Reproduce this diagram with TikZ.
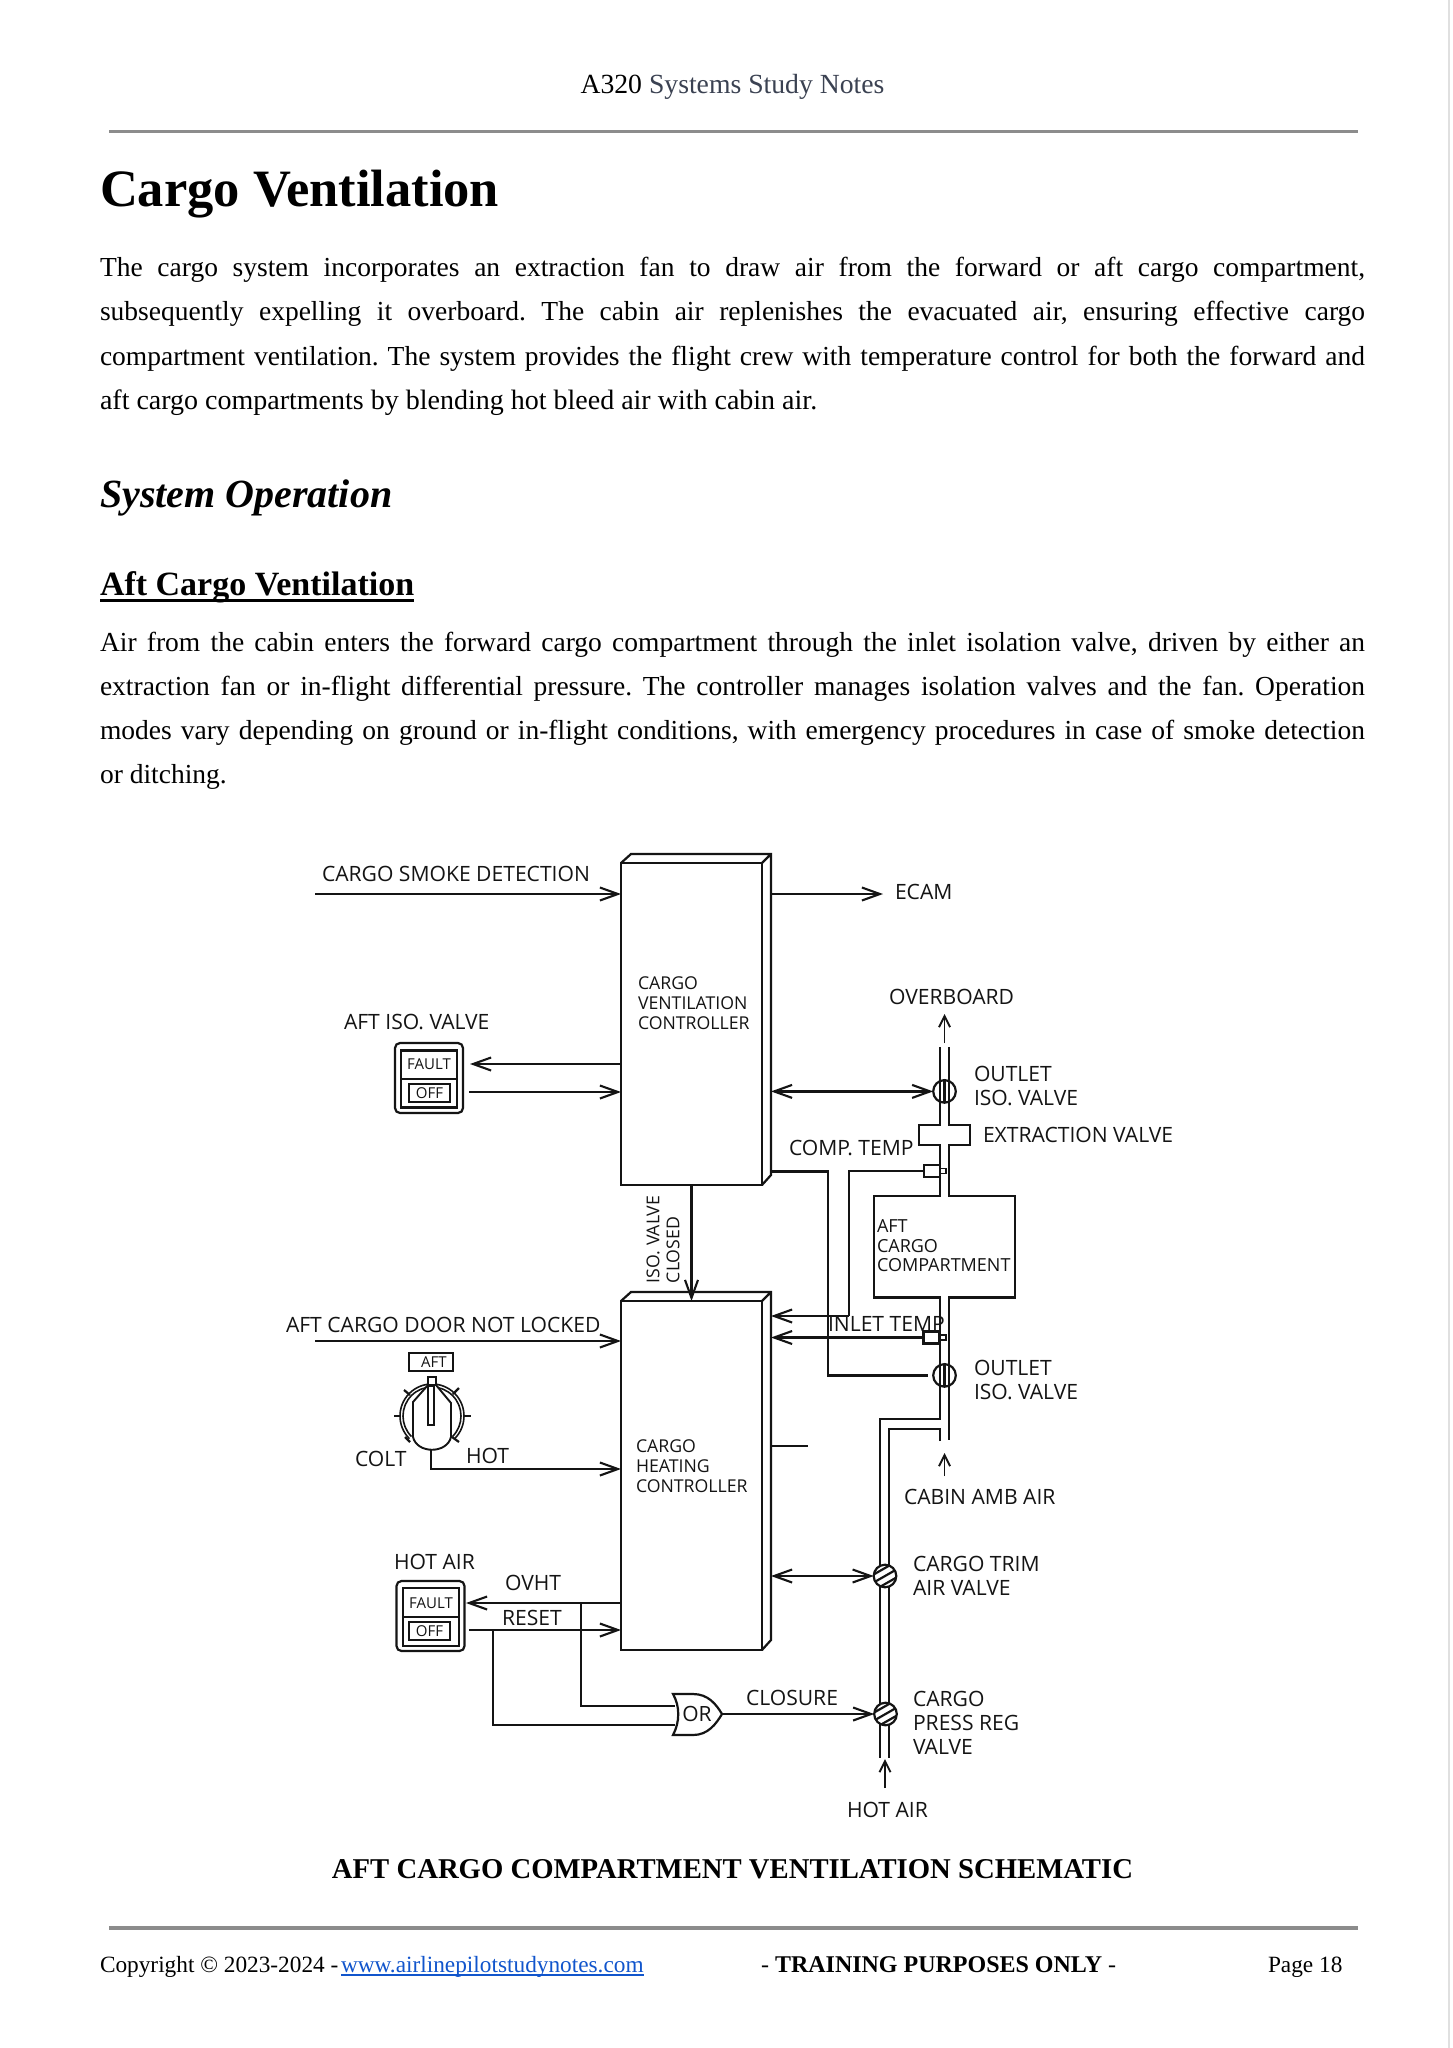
\documentclass[tikz,border=0pt]{standalone}
\usepackage{fontspec}
\usepackage{tikz}
\usetikzlibrary{arrows.meta,calc,positioning,shapes}
\setmainfont{Liberation Serif}
\newfontfamily\diagfont{Open Sans}
\frenchspacing
\definecolor{ink}{HTML}{141414}
\definecolor{slate}{HTML}{3B4252}
\definecolor{rulegray}{HTML}{8C8C8C}
\definecolor{linkblue}{HTML}{1155CC}
\tikzstyle{wire} = [line width=2.2pt,color=ink]
\tikzstyle{arr} = [wire,-{Straight Barb[length=18pt,width=13pt,line width=2.1pt]}]
\tikzstyle{twoway} = [wire,{Straight Barb[length=18pt,width=13pt,line width=2.1pt]}-{Straight Barb[length=18pt,width=13pt,line width=2.1pt]}]
\tikzstyle{flow} = [wire,line width=1.9pt,-{Straight Barb[length=11pt,width=11pt,line width=1.9pt]}]
\tikzstyle{ctl} = [wire,draw,inner sep=0,outer sep=0,minimum width=141pt,fill=white]
\tikzstyle{lbl} = [inner sep=0,outer sep=0,anchor=west,align=left,color=ink,font=\diagfont\fontsize{21.1}{24}\selectfont]
\tikzstyle{ctltxt} = [lbl,font=\diagfont\fontsize{17.7}{20}\selectfont]
\tikzstyle{paneltxt} = [inner sep=0,outer sep=0,color=ink,font=\diagfont\fontsize{15}{17}\selectfont]
\tikzstyle{panel} = [wire,draw,inner sep=0,outer sep=0,rounded corners=5pt,minimum width=68pt,minimum height=70pt]
\tikzstyle{panelin} = [wire,draw,inner sep=0,outer sep=0,minimum width=56pt,minimum height=57pt]
\tikzstyle{offbox} = [wire,draw,outer sep=0,inner sep=0,minimum width=41pt,minimum height=18pt,paneltxt]
\tikzstyle{valve} = [wire,draw,circle,inner sep=0,outer sep=0,minimum size=22.6pt]
\tikzstyle{hatchvalve} = [valve,fill=white,path picture={
  \draw[wire] ($(path picture bounding box.center)+(-14,-16)$) -- ++(28,16);
  \draw[wire] ($(path picture bounding box.center)+(-14,-8)$) -- ++(28,16);
  \draw[wire] ($(path picture bounding box.center)+(-14,0)$) -- ++(28,16);}]
\tikzstyle{sens} = [wire,draw,inner sep=0,outer sep=0,minimum width=16pt,minimum height=12pt]
\tikzstyle{senstip} = [wire,draw,inner sep=0,outer sep=0,minimum width=6pt,minimum height=5pt,line width=1.6pt]
\tikzstyle{body} = [inner sep=0,outer sep=0,anchor=base west,font=\fontsize{27.5}{30}\selectfont,color=black]
\tikzstyle{foot} = [inner sep=0,outer sep=0,anchor=base west,font=\fontsize{23.3}{27}\selectfont,color=black]
\tikzstyle{gray rule} = [line width=2.5pt,color=rulegray]
\newcommand{\fillline}[1]{\makebox[1265pt][s]{#1}}
\begin{document}
\begin{tikzpicture}[x=1pt,y=1pt]
    \useasboundingbox (0,0) rectangle (1452,-2048);
    \fill[white] (0,0) rectangle (1452,-2048);
    \draw[color=black!12,line width=1.5pt] (1449,0) to (1449,-2048);

    % page text
    \node[inner sep=0,outer sep=0,anchor=base,font=\fontsize{27.7}{30}\selectfont] (header) at (732.5,-93.5) {A320 \textcolor{slate}{Systems Study Notes}};
    \coordinate (ruleL) at (109,-131.5);
    \coordinate (ruleR) at (1358,-131.5);
    \draw[gray rule] (ruleL) to (ruleR);
    \node[body,font=\fontsize{52.5}{56}\selectfont\bfseries] (title) at (100,-206) {Cargo Ventilation};
    \node[body] (introA) at (100,-276.5) {\fillline{The cargo system incorporates an extraction fan to draw air from the forward or aft cargo compartment,}};
    \node[body] (introB) at (100,-320.5) {\fillline{subsequently expelling it overboard. The cabin air replenishes the evacuated air, ensuring effective cargo}};
    \node[body] (introC) at (100,-365) {\fillline{compartment ventilation. The system provides the flight crew with temperature control for both the forward and}};
    \node[body,font=\fontsize{28}{30}\selectfont] (introD) at (100,-409.5) {aft cargo compartments by blending hot bleed air with cabin air.};
    \node[body,font=\fontsize{40}{44}\selectfont\bfseries\itshape] (sysop) at (100,-507) {System Operation};
    \node[body,font=\fontsize{34}{38}\selectfont\bfseries] (aftvent) at (100,-595.5) {Aft Cargo Ventilation};
    \draw[line width=2.2pt] ([yshift=-5pt]aftvent.base west) to ([yshift=-5pt]aftvent.base east);
    \node[body] (opA) at (100,-651.5) {\fillline{Air from the cabin enters the forward cargo compartment through the inlet isolation valve, driven by either an}};
    \node[body] (opB) at (100,-695) {\fillline{extraction fan or in-flight differential pressure. The controller manages isolation valves and the fan. Operation}};
    \node[body] (opC) at (100,-739) {\fillline{modes vary depending on ground or in-flight conditions, with emergency procedures in case of smoke detection}};
    \node[body] (opD) at (100,-783) {or ditching.};
    \node[inner sep=0,outer sep=0,anchor=base,font=\fontsize{28.7}{32}\selectfont\bfseries] (caption) at (732.5,-1878) {AFT CARGO COMPARTMENT VENTILATION SCHEMATIC};
    \coordinate (footL) at (109,-1928);
    \coordinate (footR) at (1358,-1928);
    \draw[gray rule,line width=3.2pt] (footL) to (footR);
    \node[foot] (copy) at (100,-1972) {Copyright © 2023-2024 -};
    \node[foot,color=linkblue] (link) at (341,-1972) {www.airlinepilotstudynotes.com};
    \draw[color=linkblue,line width=2pt] ([yshift=-3pt]link.base west) to ([yshift=-3pt]link.base east);
    \node[foot,font=\fontsize{24}{27}\selectfont] (train) at (761,-1972) {- \textbf{TRAINING PURPOSES ONLY} -};
    \node[foot] (pagenum) at (1268,-1972) {Page 18};

    % controllers
    \node[ctl,minimum height=322pt] (ventctl) at (691.5,-1024) {};
    \draw[wire] (ventctl.north west) to ++(10,9) to ++(140,0) to ++(0,-321) to (ventctl.south east) (ventctl.north east) to ++(9,9);
    \coordinate (ventback) at ($(ventctl.east)+(9,0)$);
    \node[ctl,minimum height=349pt] (heatctl) at (691.5,-1475.5) {};
    \draw[wire] (heatctl.north west) to ++(10,9) to ++(140,0) to ++(0,-348) to (heatctl.south east) (heatctl.north east) to ++(9,9);
    \coordinate (heatback) at ($(heatctl.east)+(9,0)$);
    \node[ctltxt] (ventname) at (638,-1003) {CARGO\\VENTILATION\\CONTROLLER};
    \node[ctltxt] (heatname) at (636,-1466) {CARGO\\HEATING\\CONTROLLER};

    % top inputs
    \coordinate (smokein) at (315,-894);
    \draw[arr] (smokein) to (smokein -| ventctl.west);
    \node[lbl] (smoke) at (322,-874) {CARGO SMOKE DETECTION};
    \coordinate (ecamout) at (883,-894);
    \draw[arr] (ecamout -| ventback) to (ecamout);
    \node[lbl] (ecam) at (895,-892) {ECAM};
    \node[lbl] (isoname) at (344,-1022) {AFT ISO. VALVE};

    % iso switch
    \node[panel] (isosw) at (429,-1078) {};
    \node[panelin] (isoin) at (429,-1079) {};
    \draw[wire] (isoin.west) to (isoin.east);
    \node[paneltxt] (isofault) at (429,-1064.5) {FAULT};
    \node[offbox] (isooff) at (429.5,-1093) {OFF};
    \coordinate (isofb) at (470,-1064);
    \coordinate (isocmd) at (469,-1092);
    \draw[arr] (isofb -| ventctl.west) to (isofb);
    \draw[arr] (isocmd) to (isocmd -| ventctl.west);

    \draw[arr] (ventctl.south) to (ventctl.south |- heatctl.north);
    \node[ctltxt,rotate=90] (isoclosed) at (653,-1283) {ISO. VALVE};
    \node[ctltxt,rotate=90] (closed) at (673,-1283) {CLOSED};

    % piping
    \draw[wire] (949,-1047) to (949,-1125) to (970,-1125) to (970,-1145) to (949,-1145) to (949,-1196) to (1015,-1196) to (1015,-1297.5) to (949,-1297.5) to (949,-1440);
    \draw[wire] (940,-1047) to (940,-1125) to (919,-1125) to (919,-1145) to (940,-1145) to (940,-1196) to (874,-1196) to (874,-1297.5) to (940,-1297.5) to (940,-1419) to (880,-1419) to (880,-1758);
    \draw[wire] (940,-1441) to (940,-1429) to (889,-1429) to (889,-1758);

    \node[valve] (isotop) at (944.5,-1091.4) {};
    \draw[wire] (isotop.north) to (isotop.south);
    \node[valve] (isobot) at (944.5,-1375.4) {};
    \draw[wire] (isobot.north) to (isobot.south);
    \node[hatchvalve] (trimv) at (885,-1576) {};
    \node[hatchvalve] (pressv) at (885.5,-1714) {};

    \coordinate (overtail) at (944.5,-1043);
    \coordinate (overhead) at (944.5,-1014);
    \draw[flow] (overtail) to (overhead);
    \node[lbl] (overboard) at (889,-997) {OVERBOARD};
    \coordinate (cabintail) at (944.5,-1476);
    \coordinate (cabinhead) at (944.5,-1453);
    \draw[flow] (cabintail) to (cabinhead);
    \node[lbl] (cabin) at (904,-1497) {CABIN AMB AIR};
    \coordinate (hottail) at (885,-1788);
    \coordinate (hothead) at (885,-1759);
    \draw[flow] (hottail) to (hothead);
    \node[lbl] (hotair) at (847,-1810) {HOT AIR};

    \draw[twoway] (isotop -| ventback) to (isotop.west);
    \node[lbl] (outletA) at (974,-1085.5) {OUTLET\\ISO. VALVE};
    \node[lbl] (extract) at (983,-1135) {EXTRACTION VALVE};
    \node[lbl] (comptemp) at (789,-1147.5) {COMP. TEMP};

    % sensors
    \node[sens] (compsens) at (932,-1171) {};
    \node[senstip] (comptip) at (943,-1171) {};
    \node[sens] (inletsens) at (931.5,-1337.5) {};
    \node[senstip] (inlettip) at (943,-1337.5) {};
    \coordinate (sensturn) at (849,-1316);
    \coordinate (ventout) at (771,-1171.5);
    \coordinate (isobotend) at (928,-1375.4);
    \draw[wire] (ventout) to (828,-1171.5) to (828,-1375.4) to (isobotend);
    \draw[wire] (compsens.west) -| (sensturn);
    \draw[arr] (sensturn) to (sensturn -| heatback);
    \draw[arr] (inletsens.west) to (inletsens.west -| heatback);
    \node[lbl] (inlettemp) at (828,-1324) {INLET TEMP};
    \node[lbl,font=\diagfont\fontsize{18}{19.5}\selectfont] (compart) at (877,-1245.7) {AFT\\CARGO\\COMPARTMENT};
    \node[lbl] (outletB) at (974,-1380) {OUTLET\\ISO. VALVE};

    % heating inputs
    \coordinate (doorin) at (315,-1341);
    \draw[arr] (doorin) to (doorin -| heatctl.west);
    \node[lbl] (door) at (286,-1325) {AFT CARGO DOOR NOT LOCKED};
    \node[wire,draw,inner sep=0,outer sep=0,minimum width=44pt,minimum height=18pt] (aftbox) at (431,-1362) {};
    \node[paneltxt] (afttxt) at (434,-1362) {AFT};

    % knob
    \coordinate (knob) at (432,-1416);
    \draw[wire,line width=1.6pt] ($(knob)+(225:32)$) arc (225:-45:32);
    \draw[wire,line width=1.6pt] ($(knob)+(225:29)$) arc (225:-45:29);
    \draw[wire,line width=1.9pt,fill=white] (413,-1437) to (413,-1402) to (428,-1385) to (436,-1385) to (451,-1403) to (451,-1437) .. controls (447,-1454) and (417,-1454) .. cycle;
    \draw[wire,line width=1.9pt,fill=white] (428,-1386) rectangle (434,-1425);
    \draw[wire,line width=1.9pt,fill=white] (428,-1377) rectangle (436,-1385);
    \draw[wire] (394,-1416) to (400,-1416) (464,-1416) to (471,-1416);
    \draw[wire] (404,-1390) to (410,-1395) (459,-1388) to (453,-1394);
    \draw[wire] (405,-1437) to (410,-1442) (459,-1442) to (452,-1437);
    \node[lbl] (colt) at (355,-1459) {COLT};
    \node[lbl] (hot) at (466,-1456) {HOT};
    \coordinate (knobout) at (431,-1450);
    \coordinate (knobturn) at (431,-1469);
    \draw[arr] (knobout) to (knobturn) to (knobturn -| heatctl.west);

    % hot air switch
    \node[lbl] (hotname) at (394,-1562) {HOT AIR};
    \node[panel] (hotsw) at (430.5,-1616) {};
    \node[panelin,minimum height=58pt] (hotin) at (431,-1617) {};
    \draw[wire] (hotin.west) to (hotin.east);
    \node[paneltxt] (hotfault) at (431,-1603.5) {FAULT};
    \node[offbox] (hotoff) at (429.5,-1631) {OFF};
    \node[lbl] (ovht) at (505,-1583) {OVHT};
    \node[lbl] (resetname) at (502,-1618) {RESET};
    \coordinate (ovhtend) at (466,-1603);
    \coordinate (resetstart) at (469,-1630);
    \draw[arr] (ovhtend -| heatctl.west) to (ovhtend);
    \draw[arr] (resetstart) to (resetstart -| heatctl.west);
    \coordinate (ovhtjoin) at (581,-1603);
    \coordinate (resetjoin) at (493,-1630);
    \coordinate (orup) at (675,-1706);
    \coordinate (orlow) at (675,-1725);
    \draw[wire] (ovhtjoin) |- (orup);
    \draw[wire] (resetjoin) |- (orlow);

    % or gate
    \coordinate (ortip) at (722,-1714);
    \draw[wire,fill=white] (673,-1694) to (693,-1694) .. controls (708,-1694) and (716,-1704) .. (ortip) .. controls (716,-1724) and (708,-1735) .. (693,-1735) to (673,-1735) .. controls (680,-1722) and (680,-1706) .. cycle;
    \node[paneltxt,font=\diagfont\fontsize{21}{24}\selectfont] (orname) at (697,-1714) {OR};
    \draw[arr] (ortip) to (pressv.west);
    \node[lbl] (closure) at (746,-1698) {CLOSURE};

    % valves on the hot air line
    \draw[twoway] (trimv -| heatback) to (trimv.west);
    \coordinate (heatstub) at (808,-1446);
    \draw[wire] (heatstub -| heatback) to (heatstub);
    \node[lbl] (trimname) at (913,-1576) {CARGO TRIM\\AIR VALVE};
    \node[lbl] (pressname) at (913,-1723) {CARGO\\PRESS REG\\VALVE};
\end{tikzpicture}
\end{document}
